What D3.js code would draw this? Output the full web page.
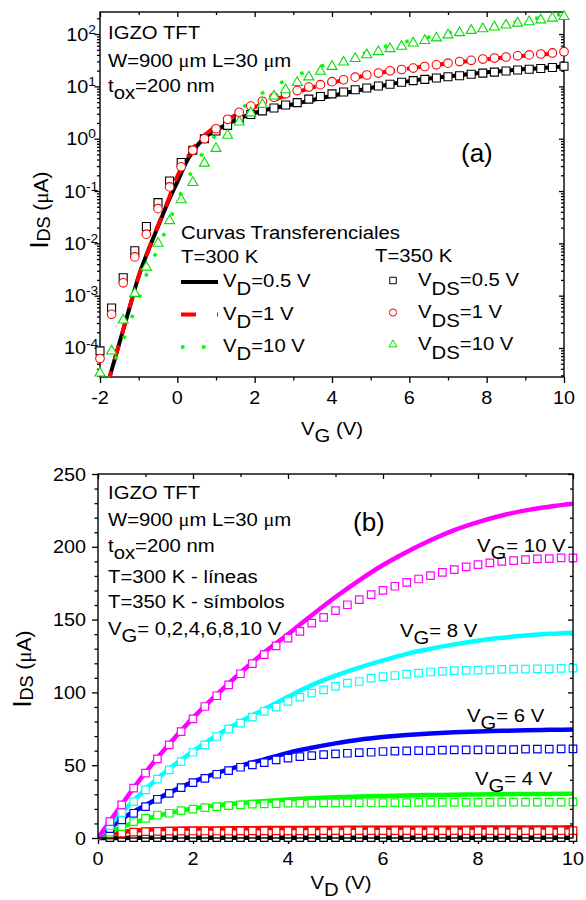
<!DOCTYPE html>
<html>
<head>
<meta charset="utf-8">
<script src="https://cdn.jsdelivr.net/npm/d3@7/dist/d3.min.js"></script>
<style>
  html, body { margin: 0; padding: 0; background: #fff; }
  svg text { font-family: "Liberation Sans", Arial, Helvetica, sans-serif; fill: #000; white-space: pre; }
</style>
</head>
<body>
<svg id="chart" width="586" height="900"></svg>
<script>
// ---------- (a) transfer curves, log scale ----------
// gate voltages of the 350 K measurements (symbols)
const vgSymbols = [-2.0,-1.7,-1.4,-1.1,-0.8,-0.5,-0.2,0.1,0.4,0.7,1.0,1.3,1.6,1.9,2.2,2.5,2.8,3.1,3.4,3.7,
  4.0,4.3,4.6,4.9,5.2,5.5,5.8,6.1,6.4,6.7,7.0,7.3,7.6,7.9,8.2,8.5,8.8,9.1,9.4,9.7,10.0];
const ids350_vds05 = [8.8e-5,5.8e-4,2.2e-3,7.2e-3,2.1e-2,6.0e-2,0.155,0.35,0.6,1.0,1.4,1.8,2.35,2.9,3.4,3.85,4.4,4.9,5.7,6.4,
  7.2,7.8,8.6,9.3,10.2,11.0,12.0,12.9,13.6,14.5,15.3,16.0,17.1,17.9,18.7,19.7,20.6,21.3,22.0,22.9,24.2];
const ids350_vds1 = [6.3e-5,4.4e-4,1.76e-3,5.5e-3,1.5e-2,4.6e-2,0.12,0.29,0.6,1.0,1.55,2.35,3.2,4.2,5.2,6.2,7.2,8.3,9.7,10.8,
  12.3,13.4,15.0,16.5,18.0,19.8,21.0,22.4,24.0,25.8,27.8,29.8,31.5,33.3,34.8,36.4,38.3,40.0,41.6,43.5,46.0];
const ids350_vds10 = [3.3e-5,8.7e-5,3.4e-4,1.1e-3,3.5e-3,1.0e-2,2.7e-2,6.8e-2,0.145,0.34,0.65,1.16,2.07,3.1,4.5,6.5,8.6,11.8,15.1,19.4,
  24,29,34,40,46,52.5,58,67,75,84,96,106,117,126,136,148,161,171,186,201,216];

// gate voltages of the 300 K curves (lines)
const vgLine = [-2,-1.75,-1.5,-1.25,-1,-0.75,-0.5,-0.25,0,0.25,0.5,0.75,1,1.25,1.5,2,2.5,3,3.5,4,4.5,5,5.5,6,6.5,7,7.5,8,8.5,9,9.5,10];
const ids300_vd05 = [6e-6,2.8e-5,1.23e-4,5.4e-4,2.35e-3,7.4e-3,2.1e-2,5.9e-2,0.15,0.38,0.72,1.11,1.45,1.82,2.26,3.1,
  3.85,4.57,5.5,6.6,7.9,9.3,11.0,12.6,14.1,15.5,17.0,18.6,20.0,21.4,22.6,24.0];
const ids300_vd1 = [6e-6,2.8e-5,1.23e-4,5.4e-4,2.35e-3,7.4e-3,2.2e-2,6.3e-2,0.19,0.42,0.8,1.25,1.7,2.2,2.8,4.0,
  5.5,7.3,9.6,11.8,14.2,16.8,19.5,22.0,24.8,27.5,30.2,33.0,35.7,38.5,41.2,44.0];
const ids300_vd10 = [1.0e-5,3.0e-5,9.3e-5,2.75e-4,8.5e-4,3.2e-3,7.9e-3,2.2e-2,6.3e-2,0.16,0.34,0.68,1.2,2.0,2.95,6.0,
  10.0,15.1,21.4,28.2,36.3,46.8,61.7,74,87,105,123,141,158,182,214,240];

const xTicksA = [-2,0,2,4,6,8,10];
const xMinorA = [-1,1,3,5,7,9];
const yDecadesA = [-4,-3,-2,-1,0,1,2];

// ---------- (b) output curves ----------
const vdSymbols = [0.25,0.5,0.75,1,1.25,1.5,1.75,2,2.25,2.5,2.75,3,3.25,3.5,3.75,4,4.25,4.5,4.75,5,
  5.25,5.5,5.75,6,6.25,6.5,6.75,7,7.25,7.5,7.75,8,8.25,8.5,8.75,9,9.25,9.5,9.75,10];
const vdLine = [0,0.25,0.5,1,1.5,2,2.5,3,3.5,4,4.5,5,5.5,6,6.5,7,7.5,8,8.5,9,9.5,10];

const gateLabels = ["0","2","4","6","8","10"];
const gateColors = ["#000000","#ff0000","#00ff00","#0000ff","#00ffff","#ff00ff"];

const out300_vg0 = [0,0.05,0.08,0.1,0.1,0.1,0.1,0.1,0.1,0.1,0.1,0.1,0.1,0.1,0.1,0.1,0.1,0.1,0.1,0.1,0.1,0.1];
const out300_vg2 = [0,2.3,4.0,5.6,6.2,6.5,6.6,6.7,6.8,6.85,6.9,6.95,7.0,7.0,7.05,7.1,7.1,7.15,7.2,7.2,7.25,7.3];
const out300_vg4 = [0,4,7.5,13,17.2,20.3,22.4,24,25.3,26.5,27.3,28,28.5,28.9,29.2,29.5,29.7,29.9,30.1,30.2,30.3,30.4];
const out300_vg6 = [0,6.8,13,22.5,31,38.5,44.5,49.5,54,58.5,62,65,67.5,69.3,70.7,71.8,72.6,73.2,73.6,74.0,74.3,74.5];
const out300_vg8 = [0,8.8,17.5,33.5,47.5,59.5,70.5,80,88.5,97,105,111.5,117,122,126.5,130,133,135.5,137.5,139,140.2,141];
const out300_vg10 = [0,11.5,23,45,64.5,82.5,98.5,113.5,127.5,140,153,165.5,177,187.5,196.5,204.5,211.5,217,221.5,225,227.5,229.5];

const out350_vg0 = [0.2,0.2,0.2,0.2,0.2,0.2,0.2,0.2,0.2,0.2,0.2,0.2,0.2,0.2,0.2,0.2,0.2,0.2,0.2,0.2,
  0.2,0.2,0.2,0.2,0.2,0.2,0.2,0.2,0.2,0.2,0.2,0.2,0.2,0.2,0.2,0.2,0.2,0.2,0.2,0.2];
const out350_vg2 = [2.0,3.3,4.0,4.4,4.6,4.7,4.7,4.8,4.8,4.8,4.8,4.9,4.9,4.9,4.9,4.9,4.9,4.9,5.0,5.0,
  5.0,5.0,5.0,5.0,5.0,5.0,5.0,5.0,5.0,5.1,5.1,5.1,5.1,5.1,5.1,5.1,5.1,5.1,5.1,5.1];
const out350_vg4 = [4.0,7.8,11.2,13.5,15.8,17.0,18.8,19.9,20.8,21.5,22.2,22.7,23.2,23.4,23.6,23.9,24.0,24.0,24.1,24.1,
  24.2,24.2,24.2,24.3,24.3,24.3,24.4,24.4,24.4,24.5,24.5,24.5,24.5,24.6,24.6,24.6,24.7,24.7,24.7,24.8];
const out350_vg6 = [6.5,12.4,17.0,21.5,26.6,30.7,34.6,38.0,41.0,43.8,46.3,48.6,50.2,51.8,53.6,54.8,55.9,56.6,57.3,57.8,
  58.2,58.7,58.9,59.4,59.6,59.8,60.0,60.0,60.3,60.5,60.5,60.5,60.7,60.7,60.7,61.0,61.0,61.0,61.2,61.2];
const out350_vg8 = [8.5,17.4,25.0,33.0,40.4,46.8,52.5,58.9,64.0,69.7,74.8,78.9,83.0,86.9,89.9,93.8,96.7,99.5,101.8,104.1,
  106.4,107.5,109.8,110.9,111.6,112.6,113.3,114.0,114.4,114.9,115.1,115.3,115.5,115.8,116.0,116.0,116.2,116.2,116.5,116.7];
const out350_vg10 = [11.2,22.7,34.2,44.5,54.3,64.0,73.1,81.8,90.3,97.7,105.2,112.8,119.7,126.0,132.0,137.3,141.9,147.6,151.5,156.1,
  160.2,163.7,167.1,170.1,172.9,175.6,177.9,180.2,182.5,184.3,186.2,187.8,188.9,190.0,190.5,191.2,191.7,191.9,192.4,192.4];

const xTicksB = [0,2,4,6,8,10];
const xMinorB = [1,3,5,7,9];
const yTicksB = [0,50,100,150,200,250];
const yMinorB = [10,20,30,40,60,70,80,90,110,120,130,140,160,170,180,190,210,220,230,240];

// ---------- helpers ----------
const svg = d3.select("#chart");
const SERIF = "'Liberation Serif', 'Times New Roman', serif";
const TEXT_WIDEN = 1.07;   // the lettering is set slightly wide
const TICK_WIDEN = 1.1;

// text made of runs; each run may be shifted vertically (sub/superscript)
function richText(g, x, y, runs, opt = {}) {
  const widen = opt.widen || TEXT_WIDEN;
  const t = g.append("text")
    .attr("font-size", opt.size || 19)
    .attr("text-anchor", opt.anchor || "start")
    .attr("transform", `translate(${x},${y})` + (opt.rotate ? ` rotate(${opt.rotate})` : "") + ` scale(${widen},1)`);
  let cur = 0;
  runs.forEach(r => {
    const s = t.append("tspan").text(r.t);
    const shift = r.dy || 0;
    if (shift !== cur) s.attr("dy", shift - cur);
    cur = shift;
    if (r.size) s.attr("font-size", r.size);
    if (r.serif) s.attr("font-family", SERIF);
  });
  return t;
}

function tickSet(g, axisFn, scale, values, size, tx, ty) {
  g.append("g").attr("transform", `translate(${tx},${ty})`)
    .call(axisFn(scale).tickValues(values).tickSize(size).tickFormat(""))
    .call(s => s.select(".domain").remove())
    .selectAll("line").attr("stroke", "#000").attr("stroke-width", 1.3);
}

function frame(g, b) {
  g.append("rect").attr("x", b.l).attr("y", b.t)
    .attr("width", b.r - b.l).attr("height", b.b - b.t)
    .attr("fill", "none").attr("stroke", "#000").attr("stroke-width", 1.4);
}

function squarePath(side) { return `M${-side/2},${-side/2}h${side}v${side}h${-side}Z`; }
function trianglePath(side) {
  const h = side * 0.866;
  return `M0,${-h*2/3}L${side/2},${h/3}L${-side/2},${h/3}Z`;
}
const zip = (xs, ys) => xs.map((x, i) => [x, ys[i]]);

// ================= PANEL (a) =================
const A = { l: 100, r: 564, t: 12, b: 377 };
const xA = d3.scaleLinear().domain([-2, 10]).range([A.l, A.r]);
const yA = d3.scaleLog().domain([2.79e-5, 264]).range([A.b, A.t]);
const gA = svg.append("g");

svg.append("clipPath").attr("id", "clipA").append("rect")
  .attr("x", A.l).attr("y", A.t).attr("width", A.r - A.l).attr("height", A.b - A.t);

const minorA = [];
yDecadesA.concat([-5]).forEach(d => {
  for (let m = 2; m <= 9; m++) {
    const v = m * Math.pow(10, d);
    if (v >= yA.domain()[0] && v <= yA.domain()[1]) minorA.push(v);
  }
});
const majorA = yDecadesA.map(d => Math.pow(10, d));

// ticks: bottom/left outward, top/right inward
tickSet(gA, d3.axisBottom, xA, xTicksA, 6, 0, A.b);
tickSet(gA, d3.axisBottom, xA, xMinorA, 3.5, 0, A.b);
tickSet(gA, d3.axisBottom, xA, xTicksA, 5, 0, A.t);
tickSet(gA, d3.axisBottom, xA, xMinorA, 3, 0, A.t);
tickSet(gA, d3.axisLeft, yA, majorA, 5.5, A.l, 0);
tickSet(gA, d3.axisLeft, yA, minorA, 3, A.l, 0);
tickSet(gA, d3.axisLeft, yA, majorA, 5, A.r, 0);
tickSet(gA, d3.axisLeft, yA, minorA, 3, A.r, 0);
frame(gA, A);

xTicksA.forEach(v => {
  richText(gA, xA(v), A.b + 27, [{ t: String(v) }], { size: 18, anchor: "middle", widen: TICK_WIDEN });
});
yDecadesA.forEach(d => {
  richText(gA, 81, yA(Math.pow(10, d)) + 6.5,
    [{ t: "10" }, { t: String(d), dy: -7, size: 12.5 }],
    { size: 18, anchor: "middle", widen: TICK_WIDEN });
});

// 300 K lines
const lineA = d3.line().x(d => xA(d[0])).y(d => yA(d[1])).curve(d3.curveMonotoneX);
const linesA = gA.append("g").attr("clip-path", "url(#clipA)");
linesA.append("path").attr("d", lineA(zip(vgLine, ids300_vd05)))
  .attr("fill", "none").attr("stroke", "#000").attr("stroke-width", 4);
linesA.append("path").attr("d", lineA(zip(vgLine, ids300_vd1)))
  .attr("fill", "none").attr("stroke", "#ff0000").attr("stroke-width", 4)
  .attr("stroke-dasharray", "15,12");
linesA.append("path").attr("d", lineA(zip(vgLine, ids300_vd10)))
  .attr("fill", "none").attr("stroke", "#00ff00").attr("stroke-width", 3.5)
  .attr("stroke-dasharray", "3.5,18.5");

// 350 K symbols
const symA = gA.append("g");
symA.selectAll(".sq").data(zip(vgSymbols, ids350_vds05)).join("path")
  .attr("d", squarePath(8)).attr("transform", d => `translate(${xA(d[0])},${yA(d[1])})`)
  .attr("fill", "#fff").attr("stroke", "#000").attr("stroke-width", 1.1);
symA.selectAll(".ci").data(zip(vgSymbols, ids350_vds1)).join("circle")
  .attr("cx", d => xA(d[0])).attr("cy", d => yA(d[1])).attr("r", 4.3)
  .attr("fill", "#fff").attr("stroke", "#ff0000").attr("stroke-width", 1.1);
symA.selectAll(".tr").data(zip(vgSymbols, ids350_vds10).filter(d => yA(d[1]) < A.b + 2)).join("path")
  .attr("d", trianglePath(10)).attr("transform", d => `translate(${xA(d[0])},${yA(d[1])})`)
  .attr("fill", "#fff").attr("stroke", "#00e000").attr("stroke-width", 1.1);

// annotations
richText(gA, 108, 39, [{ t: "IGZO TFT" }]);
richText(gA, 108, 67, [{ t: "W=900 " }, { t: "μ", serif: true }, { t: "m L=30 " }, { t: "μ", serif: true }, { t: "m" }]);
richText(gA, 108, 92, [{ t: "t" }, { t: "ox", dy: 7 }, { t: "=200 nm" }]);
richText(gA, 461, 162, [{ t: "(a)" }], { size: 26, widen: 1 });

// legend
richText(gA, 181, 238.5, [{ t: "Curvas Transferenciales" }]);
richText(gA, 181, 263, [{ t: "T=300 K" }]);
richText(gA, 375, 262, [{ t: "T=350 K" }]);
const legRowsL = [
  { y: 282, lab: "0.5 V", stroke: "#000", w: 4, dash: null },
  { y: 314.5, lab: "1 V", stroke: "#ff0000", w: 4, dash: "15,21" },
  { y: 347, lab: "10 V", stroke: "#00ff00", w: 3.5, dash: "3.5,17.5" }
];
legRowsL.forEach(r => {
  const ln = gA.append("line").attr("x1", 181).attr("x2", 218).attr("y1", r.y).attr("y2", r.y)
    .attr("stroke", r.stroke).attr("stroke-width", r.w);
  if (r.dash) ln.attr("stroke-dasharray", r.dash);
  richText(gA, 223, r.y + 5, [{ t: "V" }, { t: "D", dy: 8 }, { t: "=" + r.lab }]);
});
const legRowsR = [
  { y: 280.5, lab: "0.5 V", kind: "sq" },
  { y: 312.5, lab: "1 V", kind: "ci" },
  { y: 344.5, lab: "10 V", kind: "tr" }
];
legRowsR.forEach(r => {
  if (r.kind === "sq") gA.append("path").attr("d", squarePath(6.5)).attr("transform", `translate(393,${r.y})`)
    .attr("fill", "#fff").attr("stroke", "#000").attr("stroke-width", 1);
  if (r.kind === "ci") gA.append("circle").attr("cx", 393).attr("cy", r.y).attr("r", 3.6)
    .attr("fill", "#fff").attr("stroke", "#ff0000").attr("stroke-width", 1);
  if (r.kind === "tr") gA.append("path").attr("d", trianglePath(8)).attr("transform", `translate(393,${r.y})`)
    .attr("fill", "#fff").attr("stroke", "#00e000").attr("stroke-width", 1);
  richText(gA, 418, r.y + 5, [{ t: "V" }, { t: "DS", dy: 9 }, { t: "=" + r.lab }]);
});

// axis titles
richText(gA, 48, 210, [{ t: "I", size: 25 }, { t: "DS", dy: 2, size: 18 }, { t: " (" , dy: 0 }, { t: "μ", serif: true }, { t: "A)" }],
  { size: 21, anchor: "middle", rotate: -90, widen: 1 });
richText(gA, 332, 435, [{ t: "V" }, { t: "G", dy: 7 }, { t: " (V)" }], { size: 19, anchor: "middle" });

// ================= PANEL (b) =================
const B = { l: 98, r: 573, t: 474, b: 838 };
const xB = d3.scaleLinear().domain([0, 10]).range([B.l, B.r]);
const yB = d3.scaleLinear().domain([0, 250]).range([B.b, B.t]);
const gB = svg.append("g");

svg.append("clipPath").attr("id", "clipB").append("rect")
  .attr("x", B.l).attr("y", B.t).attr("width", B.r - B.l).attr("height", B.b - B.t + 3);

tickSet(gB, d3.axisBottom, xB, xTicksB, 6, 0, B.b);
tickSet(gB, d3.axisBottom, xB, xMinorB, 3.5, 0, B.b);
tickSet(gB, d3.axisBottom, xB, xTicksB, 5, 0, B.t);
tickSet(gB, d3.axisBottom, xB, xMinorB, 3, 0, B.t);
tickSet(gB, d3.axisLeft, yB, yTicksB, 6, B.l, 0);
tickSet(gB, d3.axisLeft, yB, yMinorB, 3.5, B.l, 0);
tickSet(gB, d3.axisLeft, yB, yTicksB, 5, B.r, 0);
tickSet(gB, d3.axisLeft, yB, yMinorB, 3, B.r, 0);

const lineB = d3.line().x(d => xB(d[0])).y(d => yB(d[1])).curve(d3.curveMonotoneX);
const lines300 = [out300_vg0, out300_vg2, out300_vg4, out300_vg6, out300_vg8, out300_vg10];
const syms350 = [out350_vg0, out350_vg2, out350_vg4, out350_vg6, out350_vg8, out350_vg10];
const linesBG = gB.append("g").attr("clip-path", "url(#clipB)");
lines300.forEach((ys, i) => {
  linesBG.append("path").attr("d", lineB(zip(vdLine, ys)))
    .attr("fill", "none").attr("stroke", gateColors[i]).attr("stroke-width", 4.5);
});
syms350.forEach((ys, i) => {
  gB.append("g").selectAll("path").data(zip(vdSymbols, ys)).join("path")
    .attr("d", squarePath(7.5)).attr("transform", d => `translate(${xB(d[0])},${yB(d[1])})`)
    .attr("fill", "#fff").attr("stroke", gateColors[i]).attr("stroke-width", 1.2);
});
frame(gB, B);

xTicksB.forEach(v => {
  richText(gB, xB(v), B.b + 27, [{ t: String(v) }], { size: 18, anchor: "middle", widen: TICK_WIDEN });
});
yTicksB.forEach(v => {
  richText(gB, 86, yB(v) + 6.5, [{ t: String(v) }], { size: 18, anchor: "end", widen: TICK_WIDEN });
});

richText(gB, 108, 498.5, [{ t: "IGZO TFT" }]);
richText(gB, 108, 526, [{ t: "W=900 " }, { t: "μ", serif: true }, { t: "m L=30 " }, { t: "μ", serif: true }, { t: "m" }]);
richText(gB, 108, 551.5, [{ t: "t" }, { t: "ox", dy: 7 }, { t: "=200 nm" }]);
richText(gB, 108, 583, [{ t: "T=300 K - líneas" }]);
richText(gB, 108, 608, [{ t: "T=350 K - símbolos" }]);
richText(gB, 108, 635, [{ t: "V" }, { t: "G", dy: 7 }, { t: "= 0,2,4,6,8,10 V" }]);
richText(gB, 353, 531, [{ t: "(b)" }], { size: 26, widen: 1 });

const curveLabels = [
  { x: 477, y: 552, idx: 5 },
  { x: 400, y: 637, idx: 4 },
  { x: 467, y: 722, idx: 3 },
  { x: 475, y: 785, idx: 2 }
];
curveLabels.forEach(c => {
  richText(gB, c.x, c.y, [{ t: "V" }, { t: "G", dy: 7 }, { t: "= " + gateLabels[c.idx] + " V" }]);
});

richText(gB, 31, 669, [{ t: "I", size: 25 }, { t: "DS", dy: 2, size: 18 }, { t: " (" }, { t: "μ", serif: true }, { t: "A)" }],
  { size: 21, anchor: "middle", rotate: -90, widen: 1 });
richText(gB, 341, 889, [{ t: "V" }, { t: "D", dy: 7 }, { t: " (V)" }], { size: 19, anchor: "middle" });
</script>
</body>
</html>
